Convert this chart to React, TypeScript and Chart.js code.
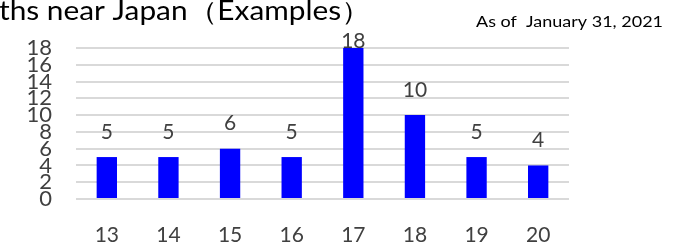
import React, { useEffect, useRef } from "react";
import { Chart, registerables } from "chart.js";

Chart.register(...registerables);

const categories = ["13", "14", "15", "16", "17", "18", "19", "20"];
const counts = [5, 5, 6, 5, 18, 10, 5, 4];
const titleText = "ths near Japan（Examples）";
const dateText = "As of  January 31, 2021";

const FONT = "Lato, 'Open Sans', sans-serif";

function fitText(ctx: CanvasRenderingContext2D, text: string, x: number, y: number, width: number) {
  const w = ctx.measureText(text).width;
  const sx = width / w;
  ctx.save();
  ctx.translate(x, y);
  ctx.scale(sx, 1);
  ctx.fillText(text, 0, 0);
  ctx.restore();
}

const labelPlugin = {
  id: "valueLabels",
  afterDatasetsDraw(chart: any) {
    const ctx = chart.ctx;
    const area = chart.chartArea;
    const meta = chart.getDatasetMeta(0);
    ctx.save();
    ctx.font = `21px ${FONT}`;
    ctx.fillStyle = "#404040";
    ctx.textAlign = "center";
    ctx.textBaseline = "middle";
    meta.data.forEach((el: any, i: number) => {
      const y = Math.max(el.y - 25, area.top - 7);
      ctx.fillText(String(counts[i]), el.x, y);
    });
    ctx.restore();
  },
  afterDraw(chart: any) {
    const ctx = chart.ctx;
    ctx.save();
    ctx.fillStyle = "#000000";
    ctx.textBaseline = "alphabetic";
    ctx.textAlign = "left";
    ctx.font = `26px ${FONT}`;
    fitText(ctx, titleText, -1, 20, 372);
    ctx.font = `16px ${FONT}`;
    fitText(ctx, dateText, 476, 27, 187);
    ctx.restore();
  },
};

export default function App() {
  const ref = useRef<HTMLCanvasElement>(null);
  useEffect(() => {
    if (!ref.current) return;
    const chart = new Chart(ref.current, {
      type: "bar",
      data: {
        labels: categories,
        datasets: [
          {
            data: counts,
            backgroundColor: "#0000ff",
            barPercentage: 0.33,
            categoryPercentage: 1,
          },
        ],
      },
      options: {
        animation: false,
        responsive: false,
        maintainAspectRatio: false,
        layout: { padding: { top: 48, right: 112, left: 0, bottom: 0 } },
        plugins: {
          legend: { display: false },
          tooltip: { enabled: false },
          title: { display: false },
        },
        scales: {
          x: {
            grid: { display: false, drawTicks: false },
            border: { display: false },
            ticks: {
              color: "#404040",
              font: { family: FONT, size: 21 },
              padding: 24,
              maxRotation: 0,
            },
            afterFit(scale: any) {
              scale.height = 47;
            },
          },
          y: {
            min: 0,
            max: 18,
            grid: { color: "#d9d9d9", lineWidth: 2, drawTicks: false },
            border: { display: false },
            ticks: {
              stepSize: 2,
              color: "#404040",
              font: { family: FONT, size: 22, lineHeight: 1 },
              padding: 24,
              autoSkip: false,
            },
            afterFit(scale: any) {
              scale.width = 76;
            },
          },
        },
      },
      plugins: [labelPlugin],
    });
    return () => chart.destroy();
  }, []);
  return (
    <div style={{ position: "fixed", left: 0, top: 0, width: 681, height: 246, background: "#fff" }}>
      <canvas ref={ref} width={681} height={246} style={{ width: 681, height: 246, display: "block" }} />
    </div>
  );
}
